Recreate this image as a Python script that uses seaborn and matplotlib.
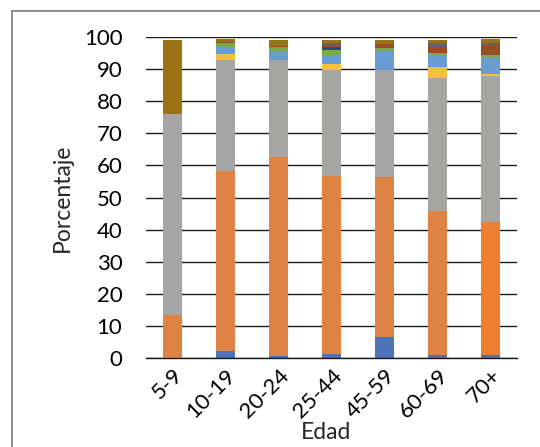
import matplotlib
matplotlib.use("Agg")
import matplotlib.pyplot as plt
import seaborn as sns
import numpy as np
import pandas as pd
from matplotlib.patches import Rectangle

# ---- data (percent per age group, stacked bottom -> top) ----
edades = ["5-9", "10-19", "20-24", "25-44", "45-59", "60-69", "70+"]
serie_1 = [0.0, 2.3, 0.6, 1.4, 6.4, 0.8, 0.8]
serie_2 = [13.3, 56.0, 62.1, 55.4, 50.1, 45.0, 41.6]
serie_3 = [62.8, 34.6, 30.2, 33.0, 33.1, 41.5, 45.5]
serie_4 = [0.0, 1.7, 0.0, 1.7, 0.0, 3.2, 0.7]
serie_5 = [0.0, 2.4, 2.7, 2.8, 5.9, 3.8, 5.0]
serie_6 = [0.0, 1.2, 1.2, 1.8, 1.2, 0.8, 0.9]
serie_7 = [0.0, 0.0, 0.0, 0.7, 0.0, 0.0, 0.0]
serie_8 = [0.0, 0.3, 0.3, 0.6, 1.2, 1.9, 3.1]
serie_9 = [0.0, 0.0, 0.0, 0.6, 0.0, 1.0, 0.6]
serie_10 = [23.1, 1.0, 2.1, 1.2, 1.3, 1.2, 1.3]
y_ticks = [0, 10, 20, 30, 40, 50, 60, 70, 80, 90, 100]

series = [serie_1, serie_2, serie_3, serie_4, serie_5,
          serie_6, serie_7, serie_8, serie_9, serie_10]
colores = ["#4E73B8", "#DF8344", "#A5A5A3", "#F7BE45", "#689CD3",
           "#7BAA4E", "#2E4B7B", "#9A4C25", "#636363", "#997314"]

sns.set_theme(style="white")
plt.rcParams["font.family"] = ["Lato", "DejaVu Sans"]

fig = plt.figure(figsize=(5.4, 4.47), dpi=100)
ax = fig.add_axes([146 / 540, (447 - 358) / 447, 371 / 540, 321 / 447])

cum = np.cumsum(np.array(series), axis=0)
for i in range(len(series) - 1, -1, -1):
    df = pd.DataFrame({"Edad": edades, "valor": cum[i]})
    pal = [colores[i]] * len(edades)
    if i == 1:
        pal[-1] = "#ED7D31"
    sns.barplot(data=df, x="Edad", y="valor", hue="Edad", palette=pal,
                width=0.36, legend=False, ax=ax, saturation=1,
                linewidth=0, edgecolor="none")

ax.set_xlim(-0.5, len(edades) - 0.5)
ax.set_ylim(0, 100)
ax.set_yticks(y_ticks)
ax.yaxis.grid(True, color="#1a1a1a", linewidth=1.0)
ax.xaxis.grid(False)
ax.set_axisbelow(True)
for s in ["top", "right", "left"]:
    ax.spines[s].set_visible(False)
ax.spines["bottom"].set_color("#1a1a1a")
ax.spines["bottom"].set_linewidth(1.0)

ax.tick_params(axis="y", length=0, pad=17, labelsize=16, colors="black")
ax.tick_params(axis="x", length=0, pad=5, labelsize=16, colors="black")
for lab in ax.get_xticklabels():
    lab.set_rotation(45)
    lab.set_ha("right")
    lab.set_va("top")
    lab.set_rotation_mode("anchor")

ax.set_xlabel("Edad", fontsize=16.5, labelpad=0)
ax.xaxis.label.set_x(0.485)
ax.set_ylabel("Porcentaje", fontsize=16.5, labelpad=8)

fig.patches.append(Rectangle((12 / 540, -0.1), 1.2, (447 - 11) / 447 + 0.1,
                             transform=fig.transFigure, fill=False,
                             edgecolor="#7a7a7a", linewidth=1.2,
                             clip_on=False))

fig.savefig("out.png", dpi=100)
